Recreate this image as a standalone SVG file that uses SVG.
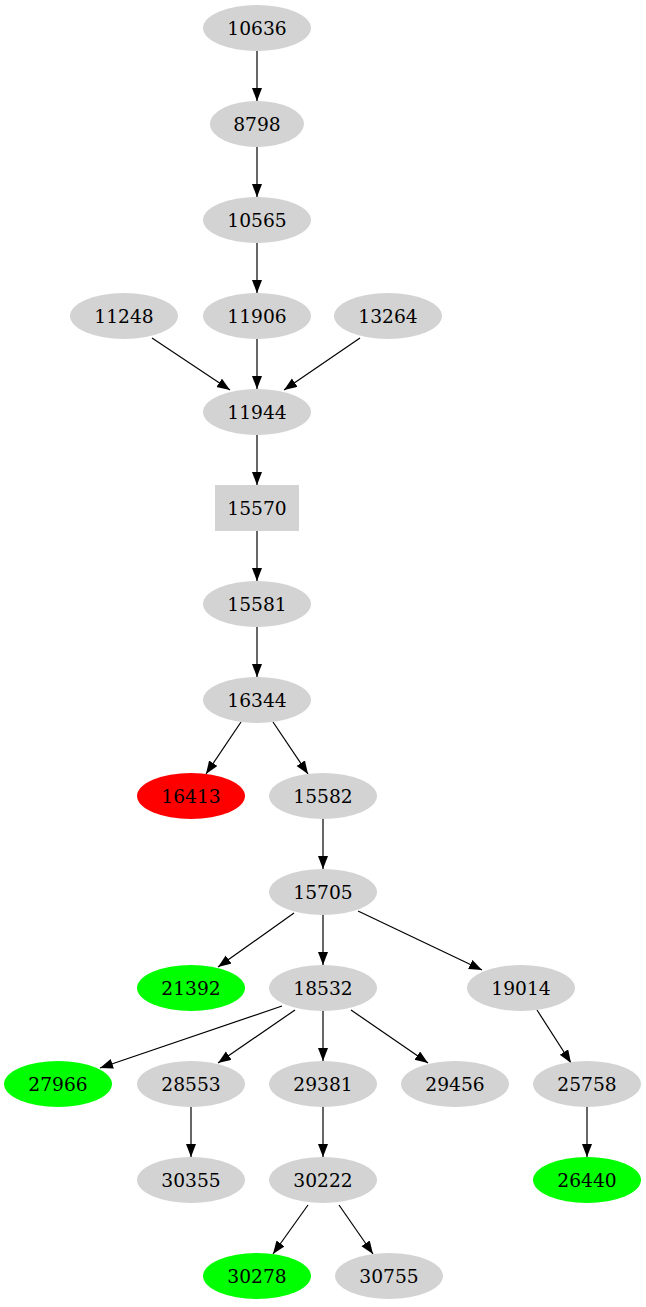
<svg xmlns="http://www.w3.org/2000/svg" width="646" height="1307" viewBox="0 0 646 1307">
<style>
.n ellipse, .n rect { fill: #d3d3d3; stroke: none; }
.n.red ellipse { fill: #ff0000; }
.n.green ellipse { fill: #00ff00; }
.n text { font-family: "DejaVu Serif", serif; font-size: 18.67px; text-anchor: middle; fill: #000; }
#edges line { stroke: #000; stroke-width: 1.2; marker-end: url(#arr); }
</style>
<defs>
<marker id="arr" markerUnits="userSpaceOnUse" markerWidth="14" markerHeight="12" refX="13" refY="5" orient="auto">
<path d="M0,0 L13,5 L0,10 Z" fill="#000"/>
</marker>
</defs>
<rect width="646" height="1307" fill="#fff"/>
<g id="edges">
<line x1="257" y1="51" x2="257" y2="101"/>
<line x1="257" y1="147" x2="257" y2="197"/>
<line x1="257" y1="243" x2="257" y2="293"/>
<line x1="152" y1="338" x2="230" y2="390"/>
<line x1="257" y1="339" x2="257" y2="389"/>
<line x1="360" y1="338" x2="284" y2="390"/>
<line x1="257" y1="435" x2="257" y2="485"/>
<line x1="257" y1="531" x2="257" y2="581"/>
<line x1="257" y1="627" x2="257" y2="677"/>
<line x1="241" y1="722" x2="206" y2="774"/>
<line x1="273" y1="722" x2="308" y2="774"/>
<line x1="323" y1="819" x2="323" y2="869"/>
<line x1="294" y1="913" x2="218" y2="967"/>
<line x1="323" y1="915" x2="323" y2="965"/>
<line x1="358" y1="911" x2="482" y2="970"/>
<line x1="282" y1="1006" x2="100" y2="1068"/>
<line x1="295" y1="1010" x2="218" y2="1063"/>
<line x1="323" y1="1011" x2="323" y2="1061"/>
<line x1="351" y1="1010" x2="428" y2="1063"/>
<line x1="537" y1="1010" x2="571" y2="1063"/>
<line x1="191" y1="1107" x2="191" y2="1157"/>
<line x1="323" y1="1107" x2="323" y2="1157"/>
<line x1="587" y1="1107" x2="587" y2="1157"/>
<line x1="308" y1="1205" x2="273" y2="1254"/>
<line x1="339" y1="1205" x2="373" y2="1254"/>
</g>
<g id="n10636" class="n"><ellipse cx="257" cy="28" rx="54" ry="23"/><text x="257" y="34.5">10636</text></g>
<g id="n8798" class="n"><ellipse cx="257" cy="124" rx="47" ry="23"/><text x="257" y="130.5">8798</text></g>
<g id="n10565" class="n"><ellipse cx="257" cy="220" rx="54" ry="23"/><text x="257" y="226.5">10565</text></g>
<g id="n11248" class="n"><ellipse cx="124" cy="316" rx="54" ry="23"/><text x="124" y="322.5">11248</text></g>
<g id="n11906" class="n"><ellipse cx="257" cy="316" rx="54" ry="23"/><text x="257" y="322.5">11906</text></g>
<g id="n13264" class="n"><ellipse cx="388" cy="316" rx="54" ry="23"/><text x="388" y="322.5">13264</text></g>
<g id="n11944" class="n"><ellipse cx="257" cy="412" rx="54" ry="23"/><text x="257" y="418.5">11944</text></g>
<g id="n15570" class="n"><rect x="215" y="485" width="84" height="46"/><text x="257" y="514.5">15570</text></g>
<g id="n15581" class="n"><ellipse cx="257" cy="604" rx="54" ry="23"/><text x="257" y="610.5">15581</text></g>
<g id="n16344" class="n"><ellipse cx="257" cy="700" rx="54" ry="23"/><text x="257" y="706.5">16344</text></g>
<g id="n16413" class="n red"><ellipse cx="191" cy="796" rx="54" ry="23"/><text x="191" y="802.5">16413</text></g>
<g id="n15582" class="n"><ellipse cx="323" cy="796" rx="54" ry="23"/><text x="323" y="802.5">15582</text></g>
<g id="n15705" class="n"><ellipse cx="323" cy="892" rx="54" ry="23"/><text x="323" y="898.5">15705</text></g>
<g id="n21392" class="n green"><ellipse cx="191" cy="988" rx="54" ry="23"/><text x="191" y="994.5">21392</text></g>
<g id="n18532" class="n"><ellipse cx="323" cy="988" rx="54" ry="23"/><text x="323" y="994.5">18532</text></g>
<g id="n19014" class="n"><ellipse cx="521" cy="988" rx="54" ry="23"/><text x="521" y="994.5">19014</text></g>
<g id="n27966" class="n green"><ellipse cx="58" cy="1084" rx="54" ry="23"/><text x="58" y="1090.5">27966</text></g>
<g id="n28553" class="n"><ellipse cx="191" cy="1084" rx="54" ry="23"/><text x="191" y="1090.5">28553</text></g>
<g id="n29381" class="n"><ellipse cx="323" cy="1084" rx="54" ry="23"/><text x="323" y="1090.5">29381</text></g>
<g id="n29456" class="n"><ellipse cx="455" cy="1084" rx="54" ry="23"/><text x="455" y="1090.5">29456</text></g>
<g id="n25758" class="n"><ellipse cx="587" cy="1084" rx="54" ry="23"/><text x="587" y="1090.5">25758</text></g>
<g id="n30355" class="n"><ellipse cx="191" cy="1180" rx="54" ry="23"/><text x="191" y="1186.5">30355</text></g>
<g id="n30222" class="n"><ellipse cx="323" cy="1180" rx="54" ry="23"/><text x="323" y="1186.5">30222</text></g>
<g id="n26440" class="n green"><ellipse cx="587" cy="1180" rx="54" ry="23"/><text x="587" y="1186.5">26440</text></g>
<g id="n30278" class="n green"><ellipse cx="257" cy="1276" rx="54" ry="23"/><text x="257" y="1282.5">30278</text></g>
<g id="n30755" class="n"><ellipse cx="389" cy="1276" rx="54" ry="23"/><text x="389" y="1282.5">30755</text></g>
</svg>
